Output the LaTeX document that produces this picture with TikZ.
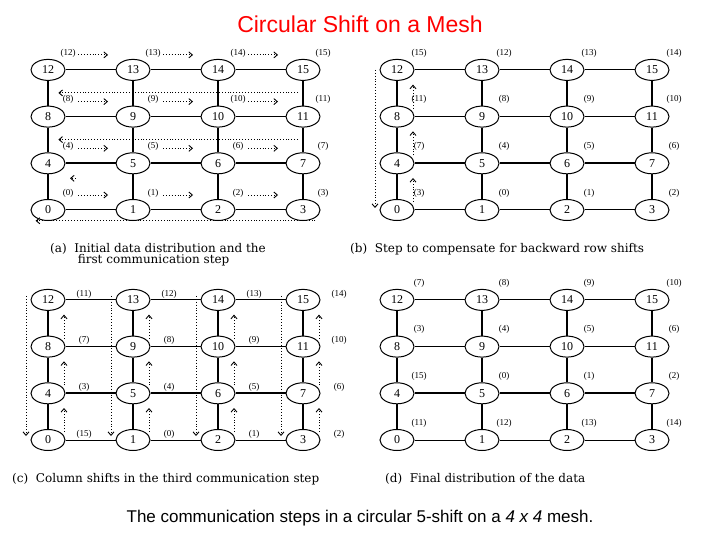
\documentclass[tikz,border=0pt]{standalone}
\usepackage{fontspec}
\setmainfont{Liberation Serif}
\newfontfamily\headfont{Liberation Sans}
\newfontfamily\capfont{DejaVu Serif}
\usetikzlibrary{shapes.geometric,arrows.meta,positioning}

\tikzset{
  pe/.style={draw, ellipse, line width=1pt, minimum width=34pt, minimum height=21pt, inner sep=0pt, font=\fontsize{12}{14}\selectfont},
  datalbl/.style={font=\fontsize{9}{10}\selectfont, inner sep=0pt},
  thin edge/.style={line width=1pt},
  thick edge/.style={line width=2.2pt},
  shiftarrow/.style={dotted, line width=0.9pt, -{Straight Barb[length=3.5pt,width=6pt]}},
  caption/.style={font=\capfont\fontsize{12}{11}\selectfont, anchor=north west, align=left, inner sep=0pt}
}

% #1 prefix, #2 x0, #3 y0
\newcommand{\meshpanel}[3]{%
  \foreach \r in {0,...,3}{
    \foreach \c in {0,...,3}{
      \pgfmathtruncatemacro{\n}{4*\r+\c}
      \node[pe] (#1\n) at ({#2+85*\c},{#3-46.7*\r}) {\n};
    }
  }
  \foreach \r in {0,...,3}{
    \foreach \c in {0,1,2}{
      \pgfmathtruncatemacro{\n}{4*\r+\c}
      \pgfmathtruncatemacro{\m}{\n+1}
      \ifnum\r=1 \draw[thick edge] (#1\n) -- (#1\m); \else \draw[thin edge] (#1\n) -- (#1\m); \fi
    }
  }
  \foreach \r in {0,1,2}{
    \foreach \c in {0,...,3}{
      \pgfmathtruncatemacro{\n}{4*\r+\c}
      \pgfmathtruncatemacro{\m}{\n+4}
      \draw[thick edge] (#1\n) -- (#1\m);
    }
  }
}

\begin{document}
\begin{tikzpicture}[x=1pt, y=-1pt]
  \useasboundingbox (0,0) rectangle (720,540);

  % Title
  \node[font=\headfont\fontsize{23}{27}\selectfont, text=red] (title) at (360,24) {Circular Shift on a Mesh};

  % Panel (a)
  \meshpanel{a}{48}{210}
  \foreach \r in {0,...,3}{
    \foreach \c in {0,...,3}{
      \pgfmathtruncatemacro{\n}{4*\r+\c}
      \node[datalbl] (la\n) at ([shift={(20,-17)}]a\n.center) {(\n)};
    }
    \foreach \c in {0,1,2}{
      \pgfmathtruncatemacro{\n}{4*\r+\c}
      \draw[shiftarrow] ([shift={(30,-15)}]a\n.center) -- ++(27,0) -- ++(3,0);
    }
  }
  \draw[shiftarrow] ([shift={(-5,12)}]a15.south) coordinate (wa3) -- ([xshift=-2pt]a12.south east |- wa3);
  \draw[shiftarrow] ([shift={(-5,12)}]a11.south) coordinate (wa2) -- ([xshift=-2pt]a8.south east |- wa2);
  \draw[shiftarrow] ([shift={(28,15)}]a4.center) -- ++(-6,0);
  \draw[shiftarrow] ([shift={(0,3)}]a3.south east) coordinate (wa0) -- (a0.south west |- wa0);
  \node[caption] (capa) at (50,243) {(a)\ \ Initial data distribution and the\\\hspace*{2.3em}first communication step};

  % Panel (b)
  \meshpanel{b}{397}{210}
  \foreach \r in {0,...,3}{
    \foreach \c in {0,...,3}{
      \pgfmathtruncatemacro{\n}{4*\r+\c}
      \pgfmathtruncatemacro{\v}{4*\r+mod(\c+3,4)}
      \node[datalbl] (lb\n) at ([shift={(22,-17)}]b\n.center) {(\v)};
    }
  }
  \foreach \n in {0,4,8}{
    \draw[shiftarrow] ([shift={(16,-8)}]b\n.center) -- ++(0,-24);
  }
  \draw[shiftarrow] ([shift={(-22,0)}]b12.center) -- ([shift={(-22,-2)}]b0.center);
  \node[caption] (capb) at (350,243) {(b)\ \ Step to compensate for backward row shifts};

  % Panel (c)
  \meshpanel{c}{48}{440}
  \foreach \r in {0,...,3}{
    \foreach \c in {0,...,3}{
      \pgfmathtruncatemacro{\n}{4*\r+\c}
      \pgfmathtruncatemacro{\v}{mod(\n+15,16)}
      \node[datalbl] (lc\n) at ([shift={(36,-6)}]c\n.center) {(\v)};
    }
    \ifnum\r<3
      \foreach \c in {0,...,3}{
        \pgfmathtruncatemacro{\n}{4*\r+\c}
        \draw[shiftarrow] ([shift={(16,-8)}]c\n.center) -- ++(0,-24);
      }
    \fi
  }
  \foreach \c in {0,...,3}{
    \pgfmathtruncatemacro{\m}{12+\c}
    \draw[shiftarrow] ([shift={(-22,-4)}]c\m.center) -- ([shift={(-22,-4)}]c\c.center);
  }
  \node[caption] (capc) at (12,473) {(c)\ \ Column shifts in the third communication step};

  % Panel (d)
  \meshpanel{d}{397}{440}
  \foreach \r in {0,...,3}{
    \foreach \c in {0,...,3}{
      \pgfmathtruncatemacro{\n}{4*\r+\c}
      \pgfmathtruncatemacro{\v}{mod(\n+11,16)}
      \node[datalbl] (ld\n) at ([shift={(22,-17)}]d\n.center) {(\v)};
    }
  }
  \node[caption] (capd) at (385,473) {(d)\ \ Final distribution of the data};

  % Bottom caption
  \node[font=\headfont\fontsize{17}{20}\selectfont] (bottom) at (360,518) {The communication steps in a circular 5-shift on a \textit{4 x 4} mesh.};
\end{tikzpicture}
\end{document}
